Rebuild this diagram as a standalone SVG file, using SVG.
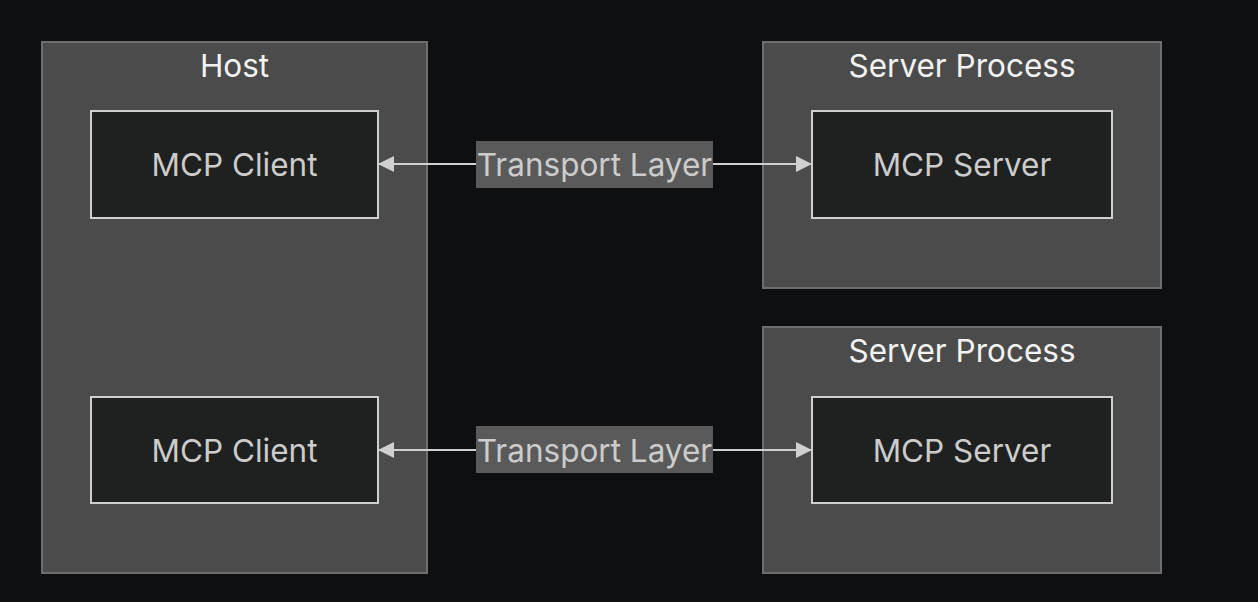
<svg xmlns="http://www.w3.org/2000/svg" width="1258" height="602" viewBox="0 0 1258 602">
<defs>
<marker id="ah" viewBox="0 0 10 10" refX="10" refY="5" markerWidth="16" markerHeight="16" markerUnits="userSpaceOnUse" orient="auto-start-reverse">
<path d="M0,0 L10,5 L0,10 z" fill="#d0d0d0"/>
</marker>
<style>
.cl{fill:#4a4b4a;stroke:#6e6e6e;stroke-width:2}
.nd{fill:#1f2020;stroke:#cfcfcf;stroke-width:2}
.ct{font-family:Inter,"Liberation Sans",sans-serif;font-size:31.5px;fill:#f2f2f2;text-anchor:middle}
.nt{font-family:Inter,"Liberation Sans",sans-serif;font-size:31.5px;fill:#cccccc;text-anchor:middle}
.ed{stroke:#d0d0d0;stroke-width:2;fill:none;marker-start:url(#ah);marker-end:url(#ah)}
.lb{fill:#5a5a5a}
</style>
</defs>
<rect width="1258" height="602" fill="#0e0f11"/>
<g id="host">
<rect class="cl" x="42" y="42" width="385" height="531"/>
<text class="ct" x="234.5" y="77">Host</text>
</g>
<g id="serverProcess1">
<rect class="cl" x="763" y="42" width="398" height="246"/>
<text class="ct" x="962" y="77">Server Process</text>
</g>
<g id="serverProcess2">
<rect class="cl" x="763" y="327" width="398" height="246"/>
<text class="ct" x="962" y="362">Server Process</text>
</g>
<g id="connectors">
<path class="ed" d="M378,164 L812,164"/>
<path class="ed" d="M378,450 L812,450"/>
<rect class="lb" x="476" y="141" width="237" height="47"/>
<text class="nt" x="594.5" y="176">Transport Layer</text>
<rect class="lb" x="476" y="426" width="237" height="47"/>
<text class="nt" x="594.5" y="462">Transport Layer</text>
</g>
<g id="client1">
<rect class="nd" x="91" y="111" width="287" height="107"/>
<text class="nt" x="234.5" y="176">MCP Client</text>
</g>
<g id="client2">
<rect class="nd" x="91" y="397" width="287" height="106"/>
<text class="nt" x="234.5" y="462">MCP Client</text>
</g>
<g id="server1">
<rect class="nd" x="812" y="111" width="300" height="107"/>
<text class="nt" x="962" y="176">MCP Server</text>
</g>
<g id="server2">
<rect class="nd" x="812" y="397" width="300" height="106"/>
<text class="nt" x="962" y="462">MCP Server</text>
</g>
</svg>
